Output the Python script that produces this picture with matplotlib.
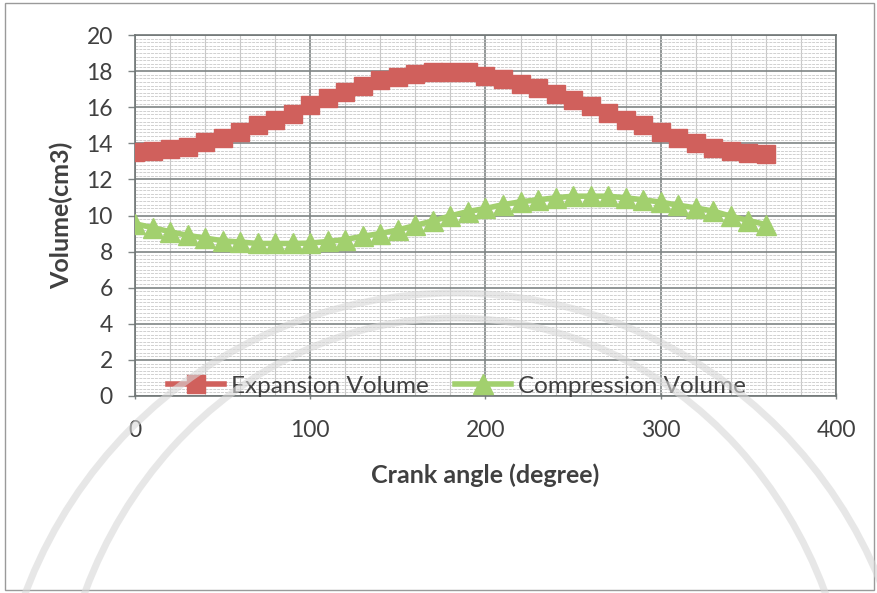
import matplotlib
matplotlib.use("Agg")
import matplotlib.pyplot as plt
from matplotlib.ticker import MultipleLocator
from matplotlib.patches import Arc, Rectangle

# Crank angle samples (degrees)
crank_angle = list(range(0, 370, 10))

# Expansion-space volume (cm3)
expansion_volume = [
    13.50, 13.55, 13.70, 13.80, 14.05, 14.30, 14.60, 15.00, 15.30, 15.65,
    16.10, 16.50, 16.85, 17.20, 17.50, 17.70, 17.85, 17.95, 17.95, 17.95,
    17.75, 17.55, 17.30, 17.05, 16.75, 16.40, 16.05, 15.70, 15.30, 15.00,
    14.60, 14.30, 14.00, 13.75, 13.55, 13.45, 13.40,
]

# Compression-space volume (cm3)
compression_volume = [
    9.54, 9.33, 9.10, 8.90, 8.75, 8.60, 8.53, 8.45, 8.45, 8.45,
    8.47, 8.56, 8.67, 8.85, 9.00, 9.20, 9.45, 9.70, 9.98, 10.22,
    10.39, 10.60, 10.76, 10.87, 10.98, 11.07, 11.07, 11.07, 10.98, 10.87,
    10.74, 10.57, 10.42, 10.24, 9.96, 9.72, 9.50,
]

series_names = ["Expansion Volume", "Compression Volume"]
x_label = "Crank angle (degree)"
y_label = "Volume(cm3)"

W, H = 878, 593
fig = plt.figure(figsize=(W / 100, H / 100), dpi=100)
fig.patch.set_facecolor("white")

plt.rcParams["font.family"] = ["Lato", "DejaVu Sans"]
text_color = "#404040"

# outer chart frame
fig.add_artist(Rectangle((5 / W, 3 / H), 869 / W, 587 / H, transform=fig.transFigure,
                         fill=False, edgecolor="#9a9a9a", lw=1.0))

ax = fig.add_axes([135 / W, (H - 396) / H, (836 - 135) / W, (396 - 35) / H])
ax.set_facecolor("none")

ax.set_xlim(0, 400)
ax.set_ylim(0, 20)
ax.xaxis.set_major_locator(MultipleLocator(100))
ax.xaxis.set_minor_locator(MultipleLocator(20))
ax.yaxis.set_major_locator(MultipleLocator(2))
ax.yaxis.set_minor_locator(MultipleLocator(0.2))

ax.grid(which="major", color="#7f8585", lw=1.2, zorder=0)
ax.grid(which="minor", axis="x", color="#c8c8c8", lw=0.8, zorder=0)
ax.grid(which="minor", axis="y", color="#d0d0d0", lw=0.7, ls=(0, (3, 1)), zorder=0)

for side in ["left", "right", "top", "bottom"]:
    ax.spines[side].set_color("#6f7575")
    ax.spines[side].set_linewidth(1.2)

ax.tick_params(which="major", length=5, width=1, color="#7f8585", labelsize=16.5,
               labelcolor=text_color)
ax.tick_params(which="minor", length=0)
ax.tick_params(axis="x", direction="inout", pad=15)
ax.tick_params(axis="y", direction="out", pad=11)

red = "#d0605c"
green = "#a2d06e"

ax.plot(crank_angle, expansion_volume, color=red, lw=4, marker="s", ms=13.5,
        mec=red, mfc=red, label=series_names[0], zorder=3)
ax.plot(crank_angle, compression_volume, color=green, lw=4, marker="^", ms=14,
        mec=green, mfc=green, label=series_names[1], zorder=3)

ax.set_xlabel(x_label, fontsize=18, fontweight="bold", color=text_color, labelpad=16)
ax.set_ylabel(y_label, fontsize=18, fontweight="bold", color=text_color, labelpad=9)

leg = ax.legend(loc="center", bbox_to_anchor=(457 / W, (H - 386) / H),
                bbox_transform=fig.transFigure, ncol=2, frameon=False,
                fontsize=17.5, handlelength=2.3, handletextpad=0.3,
                columnspacing=1.1, borderpad=0, markerscale=1.0)
for t in leg.get_texts():
    t.set_color(text_color)

# faint ring of the background seal
for (cx, cy, a, b) in [(455, 760, 460, 467), (455, 760, 400, 442)]:
    fig.add_artist(Arc((cx / W, (H - cy) / H), 2 * a / W, 2 * b / H,
                       theta1=0, theta2=180, transform=fig.transFigure,
                       color="#d8d8d8", lw=5, alpha=0.6, zorder=5))

fig.savefig("out.png", dpi=100)
